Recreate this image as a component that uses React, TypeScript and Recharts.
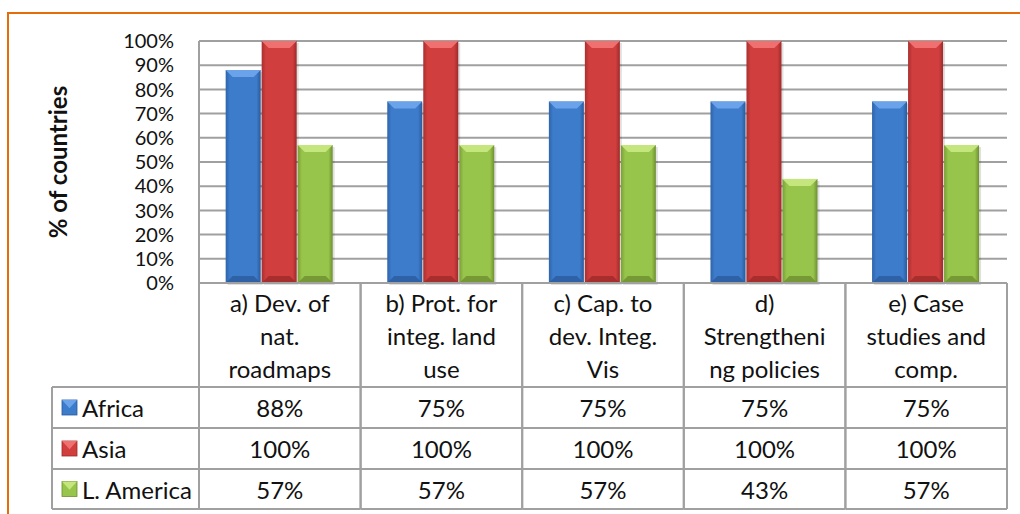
import { BarChart, Bar, XAxis, YAxis, CartesianGrid } from 'recharts';

const categories = [
  'a) Dev. of nat. roadmaps',
  'b) Prot. for integ. land use',
  'c) Cap. to dev. Integ. Vis',
  'd) Strengthening policies',
  'e) Case studies and comp.',
];
// wrapped the same way as the header cells of the data table
const categoryLines = [
  ['a) Dev. of', 'nat.', 'roadmaps'],
  ['b) Prot. for', 'integ. land', 'use'],
  ['c) Cap. to', 'dev. Integ.', 'Vis'],
  ['d)', 'Strengtheni', 'ng policies'],
  ['e) Case', 'studies and', 'comp.'],
];
const africa = [88, 75, 75, 75, 75];
const asia = [100, 100, 100, 100, 100];
const latinAmerica = [57, 57, 57, 43, 57];
const seriesNames = ['Africa', 'Asia', 'L. America'];
const yTicks = [0, 10, 20, 30, 40, 50, 60, 70, 80, 90, 100];

const seriesKeys = ['africa', 'asia', 'latam'];
const seriesValues = [africa, asia, latinAmerica];

const palettes = [
  { mid: '#3D7BCB', light: '#6AA3EA', dark: '#2A5B9C', edge: '#2F64AA' },
  { mid: '#D03E3E', light: '#F07070', dark: '#9E2A2A', edge: '#A83030' },
  { mid: '#97C44A', light: '#C4E67C', dark: '#6E8F30', edge: '#7A9E38' },
];

const data = categories.map((name, i) => ({
  name,
  africa: africa[i],
  asia: asia[i],
  latam: latinAmerica[i],
}));

const W = 1020;
const H = 514;
const M = { top: 41, right: 13, left: 139, bottom: 0 };
const Y_AXIS_W = 60;
const X_AXIS_H = 231;
const COL_W = (W - M.left - Y_AXIS_W - M.right) / categories.length;
const FONT = 'Lato, "Open Sans", sans-serif';
const LINE = '#A0A0A0';

const HEADER_H = 104;
const ROW_H = [41, 41, 40];
const LEGEND_W = 147;

function BevelBar(props: any) {
  const { x, y, width, height, idx } = props;
  if (!height || height <= 0) return null;
  const p = palettes[idx];
  const b = Math.min(7, width / 4);
  return (
    <g>
      <rect x={x + 2} y={y + 2} width={width} height={height} fill="#000" opacity={0.12} />
      <rect x={x} y={y} width={width} height={height} fill={`url(#barGrad${idx})`} />
      <polygon
        points={`${x},${y} ${x + width},${y} ${x + width - b},${y + b} ${x + b},${y + b}`}
        fill={p.light}
      />
      <polygon
        points={`${x + b},${y + height - b} ${x + width - b},${y + height - b} ${x + width},${y + height} ${x},${y + height}`}
        fill={p.dark}
        opacity={0.8}
      />
    </g>
  );
}

function LegendKey({ x, y, idx }: { x: number; y: number; idx: number }) {
  const p = palettes[idx];
  const s = 15;
  return (
    <g>
      <rect x={x} y={y} width={s} height={s} fill={p.mid} stroke={p.dark} strokeWidth={0.8} />
      <polygon points={`${x},${y} ${x + s},${y} ${x + s / 2},${y + s * 0.55}`} fill={p.light} />
    </g>
  );
}

function TableColumn(props: any) {
  const { x, y, payload } = props;
  const idx = props.index ?? payload.index ?? 0;
  const left = x - COL_W / 2;
  const right = x + COL_W / 2;
  const lines = categoryLines[idx];
  const headMid = y + HEADER_H / 2;
  const rowTops = [y + HEADER_H, y + HEADER_H + ROW_H[0], y + HEADER_H + ROW_H[0] + ROW_H[1]];
  const bottom = rowTops[2] + ROW_H[2];
  const txt = { fontFamily: FONT, fontSize: 24, fill: '#111' };
  return (
    <g>
      {lines.map((l, k) => (
        <text key={k} x={x} y={headMid + (k - 1) * 33} textAnchor="middle" dominantBaseline="central" {...txt}>
          {l}
        </text>
      ))}
      {seriesValues.map((vals, r) => (
        <text
          key={r}
          x={x}
          y={rowTops[r] + ROW_H[r] / 2}
          textAnchor="middle"
          dominantBaseline="central"
          {...txt}
        >
          {`${vals[idx]}%`}
        </text>
      ))}
      <line x1={left} y1={y} x2={left} y2={bottom} stroke={LINE} strokeWidth={2} />
      <line x1={right} y1={y} x2={right} y2={bottom} stroke={LINE} strokeWidth={2} />
      {[...rowTops, bottom].map((ty, k) => (
        <line key={k} x1={left} y1={ty} x2={right} y2={ty} stroke={LINE} strokeWidth={2} />
      ))}
      {idx === 0 && (
        <g>
          <line x1={left - LEGEND_W} y1={rowTops[0]} x2={left - LEGEND_W} y2={bottom} stroke={LINE} strokeWidth={2} />
          {[...rowTops, bottom].map((ty, k) => (
            <line key={k} x1={left - LEGEND_W} y1={ty} x2={left} y2={ty} stroke={LINE} strokeWidth={2} />
          ))}
          {seriesNames.map((n, r) => (
            <g key={n}>
              <LegendKey x={left - LEGEND_W + 10} y={rowTops[r] + ROW_H[r] / 2 - 7.5} idx={r} />
              <text
                x={left - LEGEND_W + 30}
                y={rowTops[r] + ROW_H[r] / 2}
                dominantBaseline="central"
                {...txt}
              >
                {n}
              </text>
            </g>
          ))}
        </g>
      )}
    </g>
  );
}

function YTitle(props: any) {
  const vb = props.viewBox || { x: M.left, y: M.top, width: Y_AXIS_W, height: 242 };
  const cx = vb.x - 82;
  const cy = vb.y + vb.height / 2;
  return (
    <text
      x={cx}
      y={cy}
      transform={`rotate(-90, ${cx}, ${cy})`}
      textAnchor="middle"
      dominantBaseline="central"
      fontFamily={FONT}
      fontSize={24}
      fontWeight={700}
      fill="#111"
    >
      % of countries
    </text>
  );
}

export default function App() {
  return (
    <div>
      <div
        style={{
          position: 'absolute',
          left: 7,
          top: 12,
          width: 1013,
          height: 502,
          borderTop: '2px solid #E46C0A',
          borderLeft: '2px solid #E46C0A',
          boxSizing: 'border-box',
        }}
      />
      <div style={{ position: 'absolute', left: 0, top: 0, width: W, height: H }}>
        <BarChart
          width={W}
          height={H}
          data={data}
          margin={M}
          barCategoryGap="16.5%"
          barGap={1}
        >
          <defs>
            {palettes.map((p, i) => (
              <linearGradient key={i} id={`barGrad${i}`} x1="0" y1="0" x2="1" y2="0">
                <stop offset="0%" stopColor={p.edge} />
                <stop offset="12%" stopColor={p.mid} />
                <stop offset="40%" stopColor={p.mid} />
                <stop offset="88%" stopColor={p.mid} />
                <stop offset="100%" stopColor={p.dark} />
              </linearGradient>
            ))}
          </defs>
          <CartesianGrid vertical={false} stroke={LINE} strokeWidth={2} />
          <YAxis
            width={Y_AXIS_W}
            domain={[0, 100]}
            ticks={yTicks}
            interval={0}
            tickFormatter={(v: number) => `${v}%`}
            tickLine={false}
            tickSize={0}
            tickMargin={25}
            axisLine={{ stroke: LINE, strokeWidth: 2 }}
            tick={{ fontFamily: FONT, fontSize: 20, fill: '#111' }}
            label={<YTitle />}
          />
          <XAxis
            dataKey="name"
            height={X_AXIS_H}
            interval={0}
            tickLine={false}
            tickSize={0}
            tickMargin={0}
            axisLine={{ stroke: LINE, strokeWidth: 2 }}
            tick={<TableColumn />}
          />
          {seriesKeys.map((k, i) => (
            <Bar
              key={k}
              dataKey={k}
              name={seriesNames[i]}
              fill={palettes[i].mid}
              isAnimationActive={false}
              shape={(p: any) => <BevelBar {...p} idx={i} />}
            />
          ))}
        </BarChart>
      </div>
    </div>
  );
}
